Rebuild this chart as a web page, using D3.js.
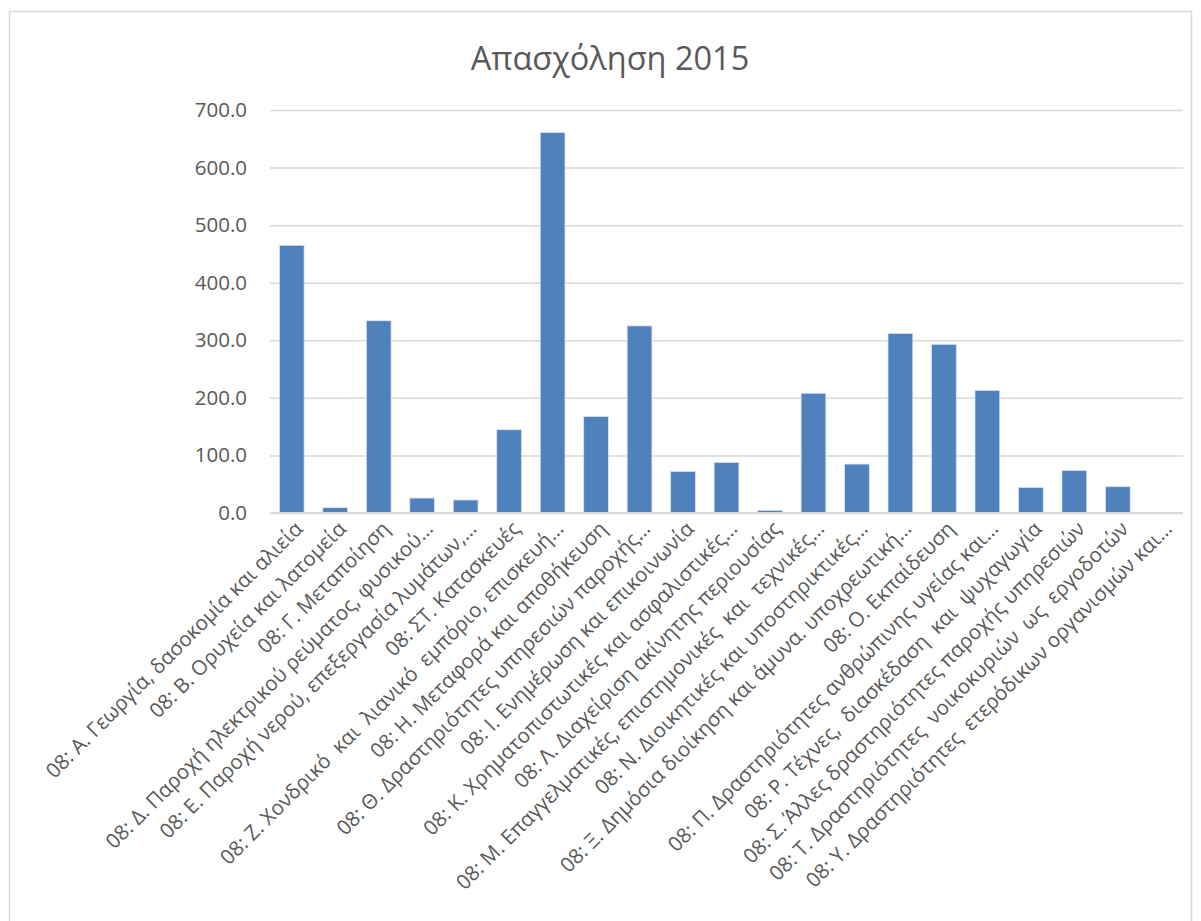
<!DOCTYPE html>
<html>
<head>
<meta charset="utf-8">
<script src="https://cdn.jsdelivr.net/npm/d3@7"></script>
<style>
  body { margin: 0; background: #fff; }
  svg text { font-family: "Open Sans", "Noto Sans", sans-serif; fill: #595959; }
  .xlab { white-space: pre; }
</style>
</head>
<body>
<div id="chart"></div>
<script>
const title = 'Απασχόληση 2015';

const categories = [
  '08: Α. Γεωργία, δασοκομία και αλιεία',
  '08: Β. Ορυχεία και λατομεία',
  '08: Γ. Μεταποίηση',
  '08: Δ. Παροχή ηλεκτρικού ρεύματος, φυσικού…',
  '08: Ε. Παροχή νερού, επεξεργασία λυμάτων,…',
  '08: ΣΤ. Κατασκευές',
  '08: Ζ. Χονδρικό  και  λιανικό  εμπόριο, επισκευή…',
  '08: Η. Μεταφορά και αποθήκευση',
  '08: Θ. Δραστηριότητες υπηρεσιών παροχής…',
  '08: Ι. Ενημέρωση και επικοινωνία',
  '08: Κ. Χρηματοπιστωτικές και ασφαλιστικές…',
  '08: Λ. Διαχείριση ακίνητης περιουσίας',
  '08: Μ. Επαγγελματικές, επιστημονικές  και  τεχνικές…',
  '08: Ν. Διοικητικές και υποστηρικτικές…',
  '08: Ξ. Δημόσια διοίκηση και άμυνα. υποχρεωτική…',
  '08: Ο. Εκπαίδευση',
  '08: Π. Δραστηριότητες ανθρώπινης υγείας και…',
  '08: Ρ. Τέχνες,  διασκέδαση  και  ψυχαγωγία',
  '08: Σ. Άλλες δραστηριότητες παροχής υπηρεσιών',
  '08: Τ. Δραστηριότητες  νοικοκυριών  ως  εργοδοτών',
  '08: Υ. Δραστηριότητες  ετερόδικων οργανισμών και…'
];

const values = [465, 9.3, 334, 26, 22.6, 144.6, 661, 167.7, 325, 72.3, 87.9,
                4.6, 208, 85, 312, 293, 213, 44.5, 74, 45.7, 1];

const yTicks = [0, 100, 200, 300, 400, 500, 600, 700];

const W = 1201, H = 921;
const plot = { left: 270, right: 1183, top: 110, bottom: 513 };

const svg = d3.select('#chart').append('svg')
  .attr('width', W)
  .attr('height', H);

// chart frame
svg.append('rect')
  .attr('x', 9.5).attr('y', 11.5)
  .attr('width', 1182).attr('height', 930)
  .attr('fill', '#fff')
  .attr('stroke', '#d9d9d9')
  .attr('stroke-width', 1.5);

svg.append('text')
  .attr('x', 610).attr('y', 70)
  .attr('text-anchor', 'middle')
  .attr('font-size', '32.5px')
  .text(title);

const x = d3.scaleBand()
  .domain(categories)
  .range([plot.left, plot.right])
  .paddingInner(0.43)
  .paddingOuter(0.215);

const y = d3.scaleLinear()
  .domain([0, 700])
  .range([plot.bottom, plot.top]);

// gridlines + y labels
const yAxis = d3.axisLeft(y)
  .tickValues(yTicks)
  .tickFormat(d3.format('.1f'))
  .tickSize(-(plot.right - plot.left))
  .tickPadding(23);

const gy = svg.append('g')
  .attr('transform', `translate(${plot.left},0)`)
  .call(yAxis);
gy.select('.domain').remove();
gy.selectAll('.tick line')
  .attr('stroke', '#d9d9d9')
  .attr('stroke-width', 1.5);
gy.selectAll('.tick text')
  .attr('font-size', '20.5px')
  .attr('fill', '#595959');

// bars
svg.append('g')
  .selectAll('rect')
  .data(values)
  .enter().append('rect')
  .attr('x', (d, i) => x(categories[i]))
  .attr('y', d => y(d))
  .attr('width', x.bandwidth())
  .attr('height', d => y(0) - y(d))
  .attr('fill', '#4f81bd')
  .attr('stroke', '#dbe5f1')
  .attr('stroke-width', 0.8);

// category axis line
svg.append('line')
  .attr('x1', plot.left).attr('x2', plot.right)
  .attr('y1', y(0)).attr('y2', y(0))
  .attr('stroke', '#d9d9d9')
  .attr('stroke-width', 2);

// rotated category labels
svg.append('g')
  .selectAll('text')
  .data(categories)
  .enter().append('text')
  .attr('class', 'xlab')
  .attr('transform', d => `translate(${x(d) + x.bandwidth() / 2 + 7},${plot.bottom + 12}) rotate(-45)`)
  .attr('text-anchor', 'end')
  .attr('dy', '0.35em')
  .attr('font-size', '20.5px')
  .text(d => d);
</script>
</body>
</html>
